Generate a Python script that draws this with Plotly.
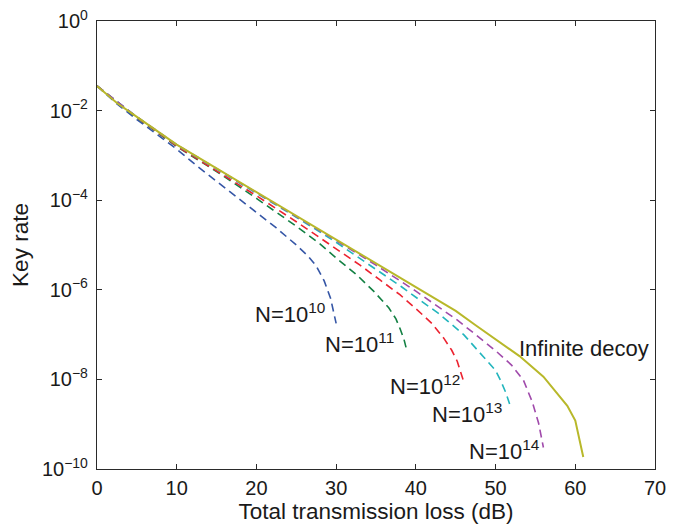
import plotly.graph_objects as go

# Total transmission loss (dB) and key rates
inf_x = [0, 2.5, 5, 7.5, 10, 15, 20, 25, 30, 35, 40, 45, 47.5, 50, 53, 56, 59, 60, 61]
inf_y = [3.55e-2, 1.48e-2, 7.24e-3, 3.47e-3, 1.74e-3, 5.13e-4, 1.51e-4, 4.47e-5, 1.32e-5,
         3.89e-6, 1.15e-6, 3.39e-7, 1.62e-7, 7.94e-8, 3.31e-8, 1.15e-8, 2.57e-9, 1.20e-9, 1.86e-10]

n10_x = [0, 2.5, 5, 7.5, 10, 12.5, 15, 17.5, 20, 22.5, 25, 26.5, 27.5, 28.5, 29.3, 29.8, 30.0]
n10_y = [3.55e-2, 1.41e-2, 6.31e-3, 3.02e-3, 1.38e-3, 5.89e-4, 2.63e-4, 1.20e-4, 5.50e-5,
         2.40e-5, 1.00e-5, 5.62e-6, 3.39e-6, 1.58e-6, 6.46e-7, 2.82e-7, 1.78e-7]

n11_x = [0, 5, 10, 15, 20, 25, 28, 30, 32.6, 34.7, 36.6, 37.5, 38.0, 38.5, 38.9]
n11_y = [3.55e-2, 6.92e-3, 1.58e-3, 4.37e-4, 1.10e-4, 2.63e-5, 1.05e-5, 5.13e-6, 2.14e-6,
         9.33e-7, 3.98e-7, 2.24e-7, 1.38e-7, 7.94e-8, 4.17e-8]

n12_x = [0, 5, 10, 15, 20, 25, 30, 33, 35.5, 38, 40, 42, 43.5, 44.5, 45.2, 45.7, 46.0]
n12_y = [3.55e-2, 7.08e-3, 1.62e-3, 4.57e-4, 1.26e-4, 3.31e-5, 8.32e-6, 3.55e-6, 1.66e-6,
         7.76e-7, 3.80e-7, 1.78e-7, 8.32e-8, 4.47e-8, 2.51e-8, 1.41e-8, 8.91e-9]

n13_x = [0, 5, 10, 15, 20, 25, 30, 33.6, 35.9, 38.2, 40.5, 42.8, 44, 46, 48.5, 50, 50.6, 51.3, 51.8]
n13_y = [3.55e-2, 7.24e-3, 1.70e-3, 5.01e-4, 1.45e-4, 4.17e-5, 1.15e-5, 4.27e-6, 2.24e-6,
         1.17e-6, 5.89e-7, 3.02e-7, 2.00e-7, 1.00e-7, 3.16e-8, 1.58e-8, 9.77e-9, 5.01e-9, 2.69e-9]

n14_x = [0, 5, 10, 15, 20, 25, 30, 35, 40, 43.3, 45, 47.5, 50, 52, 53.5, 54.6, 55.4, 56.0]
n14_y = [3.55e-2, 7.24e-3, 1.74e-3, 5.13e-4, 1.48e-4, 4.37e-5, 1.26e-5, 3.55e-6, 9.33e-7,
         3.63e-7, 2.24e-7, 1.00e-7, 4.37e-8, 2.09e-8, 9.55e-9, 3.16e-9, 1.05e-9, 3.02e-10]

x_ticks = [0, 10, 20, 30, 40, 50, 60, 70]
y_tickvals = [1e0, 1e-2, 1e-4, 1e-6, 1e-8, 1e-10]
y_ticktext = ["10<sup>0</sup>", "10<sup>\u22122</sup>", "10<sup>\u22124</sup>",
              "10<sup>\u22126</sup>", "10<sup>\u22128</sup>", "10<sup>\u221210</sup>"]

labels = ["N=10<sup>10</sup>", "N=10<sup>11</sup>", "N=10<sup>12</sup>",
          "N=10<sup>13</sup>", "N=10<sup>14</sup>", "Infinite decoy"]
label_x = [19.6, 28.4, 36.5, 41.8, 46.4, 52.7]
label_logy = [-6.52, -7.19, -8.125, -8.76, -9.58, -7.32]

FONT = "Liberation Sans, Arial, Helvetica, sans-serif"
TXT = "#1a1a1a"

dashed = [
    (n10_x, n10_y, "#3556a6"),
    (n11_x, n11_y, "#138043"),
    (n12_x, n12_y, "#ec2330"),
    (n13_x, n13_y, "#22b5bd"),
    (n14_x, n14_y, "#a04aab"),
]

fig = go.Figure()
for xs, ys, c in dashed:
    fig.add_trace(go.Scatter(x=xs, y=ys, mode="lines",
                             line=dict(color=c, width=1.6, dash="8px,5px"),
                             showlegend=False, hoverinfo="skip"))
fig.add_trace(go.Scatter(x=inf_x, y=inf_y, mode="lines",
                         line=dict(color="#b8b82a", width=2),
                         showlegend=False, hoverinfo="skip"))

for t, lx, ly in zip(labels, label_x, label_logy):
    fig.add_annotation(x=lx, y=ly, xref="x", yref="y", text=t, showarrow=False,
                       xanchor="left", yanchor="middle",
                       font=dict(family=FONT, size=22, color=TXT))

axis_common = dict(showline=True, linecolor="#2a2a2a", linewidth=1.2, mirror="ticks",
                   ticks="inside", ticklen=5, tickwidth=1, tickcolor="#2a2a2a",
                   showgrid=False, zeroline=False, automargin=False,
                   ticklabeloverflow="allow",
                   tickfont=dict(family=FONT, size=20, color=TXT))

fig.update_xaxes(range=[0, 70], tickvals=x_ticks,
                 title=dict(text="Total transmission loss (dB)",
                            font=dict(family=FONT, size=22.5, color=TXT), standoff=2),
                 ticklabelstandoff=1, **axis_common)
fig.update_yaxes(type="log", range=[-10, 0], tickvals=y_tickvals, ticktext=y_ticktext,
                 title=dict(text="Key rate", font=dict(family=FONT, size=22.5, color=TXT),
                            standoff=10),
                 ticklabelstandoff=4, **axis_common)

# page has an 8px body margin, so the figure is sized to fit inside the window
fig.update_layout(width=691, height=516,
                  margin=dict(l=88.5, r=44, t=13, b=55, pad=0),
                  paper_bgcolor="white", plot_bgcolor="white",
                  font=dict(family=FONT, color=TXT), showlegend=False)

fig.write_html("out.html")
